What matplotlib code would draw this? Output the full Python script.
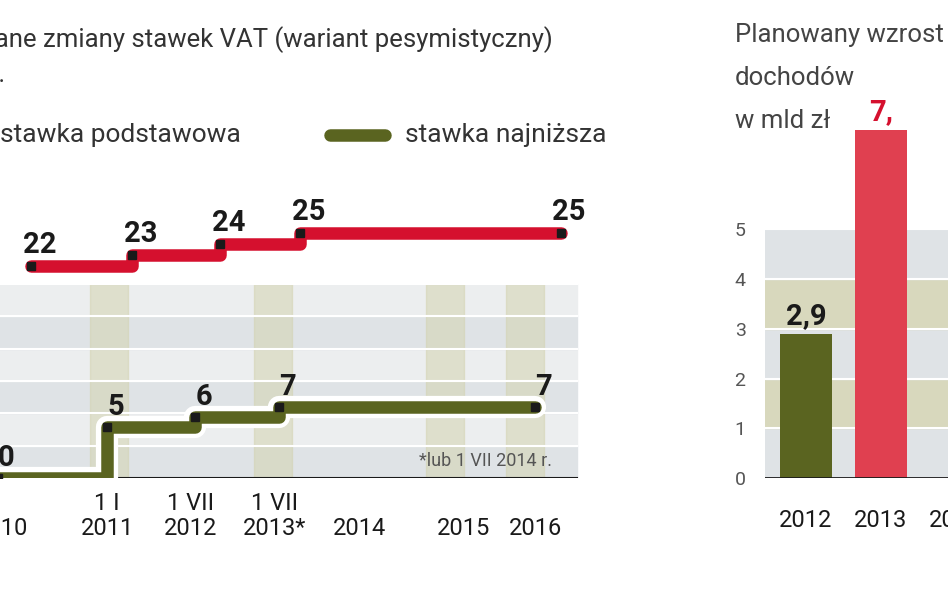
import matplotlib
matplotlib.use("Agg")
import matplotlib.pyplot as plt
import matplotlib.patheffects as pe

# Left chart: VAT rate steps (x = position index on the time axis)
tick_pos = [-0.25, 1.0, 2.0, 3.0, 4.0, 5.25, 6.1]
tick_labels = ["\n2010", "1 I\n2011", "1 VII\n2012", "1 VII\n2013*", "\n2014", "\n2015", "\n2016"]
red_x = [0.1, 1.3, 2.35, 3.3, 6.4]
red_rate = [22, 23, 24, 25, 25]
green_x = [-0.3, 1.0, 2.05, 3.05, 6.1]
green_rate = [0, 5, 6, 7, 7]
green_labels = ["0", "5", "6", "7", "7"]

# Right chart: planned revenue growth, bn PLN
years = ["2012", "2013", "2014"]
revenue = [2.9, 7.0]
revenue_labels = ["2,9", "7,"]

RED = "#d5102e"
GREEN = "#5a6420"
DARK = "#1a1a1a"
plt.rcParams["font.family"] = ["Roboto", "DejaVu Sans"]

fig = plt.figure(figsize=(9.48, 5.93), dpi=100)
W, H = 948, 593


def box(x0, y0, x1, y1):
    return [x0 / W, 1 - y1 / H, (x1 - x0) / W, (y1 - y0) / H]


# --- left chart ---
ax_g = fig.add_axes(box(-40, 200, 590, 478))
ax_r = ax_g.twinx()
xlim = (-0.75, 6.75)
for ax in (ax_g, ax_r):
    ax.set_xlim(*xlim)
    ax.patch.set_alpha(0)
    for s in ax.spines.values():
        s.set_visible(False)
ax_g.set_ylim(0, 27.5)
ax_r.set_ylim(2.7, 28.0)
ax_r.set_yticks([])
ax_g.set_yticks([])

# background bands
for i in range(6):
    y0 = i * 3.2
    ax_g.axhspan(y0, y0 + 3.2, xmin=0, xmax=0.98, color="#dfe3e6" if i % 2 == 0 else "#eceeef", zorder=0)
    ax_g.axhline(y0 + 3.2, xmax=0.98, color="white", lw=1.5, zorder=1)
for c in [0.95, 2.9, 4.95, 5.9]:
    ax_g.axvspan(c - 0.15, c + 0.3, ymax=19.2 / 27.5, color="#d3d3b0", alpha=0.55, zorder=0.5)
ax_g.axhline(0, xmin=0.05, xmax=0.98, color=DARK, lw=1.5, zorder=2)

stroke = [pe.Stroke(linewidth=16, foreground="white"), pe.Normal()]
for ax, xs, ys, col, labs in ((ax_r, red_x, red_rate, RED, [str(v) for v in red_rate]),
                              (ax_g, green_x, green_rate, GREEN, green_labels)):
    ax.step(xs, ys, where="post", color=col, lw=9, solid_capstyle="round",
            solid_joinstyle="round", path_effects=stroke, zorder=3)
    ax.plot(xs, ys, "s", color=DARK, ms=6, zorder=4)
    for x, y, t in zip(xs, ys, labs):
        ax.annotate(t, (x, y), xytext=(6, 9), textcoords="offset points", ha="center",
                    fontsize=21, fontweight="bold", color=DARK, zorder=5)

ax_g.set_xticks(tick_pos)
ax_g.set_xticklabels(tick_labels, fontsize=17, color=DARK, linespacing=1.1)
ax_g.tick_params(axis="x", length=0, pad=10)
ax_g.text(6.3, 1.2, "*lub 1 VII 2014 r.", ha="right", fontsize=13, color="#555555", zorder=5)

fig.text(-0.095, 1 - 40 / H, "Planowane zmiany stawek VAT (wariant pesymistyczny)",
         fontsize=18.5, color="#333333", va="center")
fig.text(-0.01, 1 - 75 / H, "r.", fontsize=18, color="#333333", va="center")
fig.text(0.0, 1 - 135 / H, "stawka podstawowa", fontsize=19, color="#333333", va="center")
fig.add_artist(plt.Line2D([330 / W, 385 / W], [1 - 135 / H] * 2, color=GREEN, lw=9,
                          solid_capstyle="round"))
fig.text(405 / W, 1 - 135 / H, "stawka najniższa", fontsize=19, color="#333333", va="center")

# --- right chart ---
axr = fig.add_axes(box(765, 130, 1000, 478))
axr.set_ylim(0, 7.0)
axr.set_xlim(-0.55, 2.6)
for s in axr.spines.values():
    s.set_visible(False)
for i in range(5):
    axr.axhspan(i, i + 1, color="#dfe3e6" if i % 2 == 0 else "#d8d8bd", zorder=0)
    axr.axhline(i + 1, color="white", lw=1.5, zorder=1)
axr.axhline(0, color=DARK, lw=2, zorder=3)
axr.bar([0, 1], revenue, width=0.7, color=[GREEN, "#e04050"], zorder=2)
for x, v, t, c in zip([0, 1], revenue, revenue_labels, [DARK, RED]):
    axr.text(x, v + 0.2, t, ha="center", fontsize=21, fontweight="bold", color=c)
axr.set_yticks(range(6))
axr.tick_params(axis="y", length=0, labelsize=14, labelcolor="#555555", pad=14)
axr.set_xticks(range(3))
axr.set_xticklabels(years, fontsize=17, color=DARK)
axr.tick_params(axis="x", length=0, pad=22)
for i, t in enumerate(["Planowany wzrost", "dochodów", "w mld zł"]):
    fig.text(735 / W, 1 - (35 + 43 * i) / H, t, fontsize=18.5, color="#444444", va="center")

fig.savefig("out.png", dpi=100)
